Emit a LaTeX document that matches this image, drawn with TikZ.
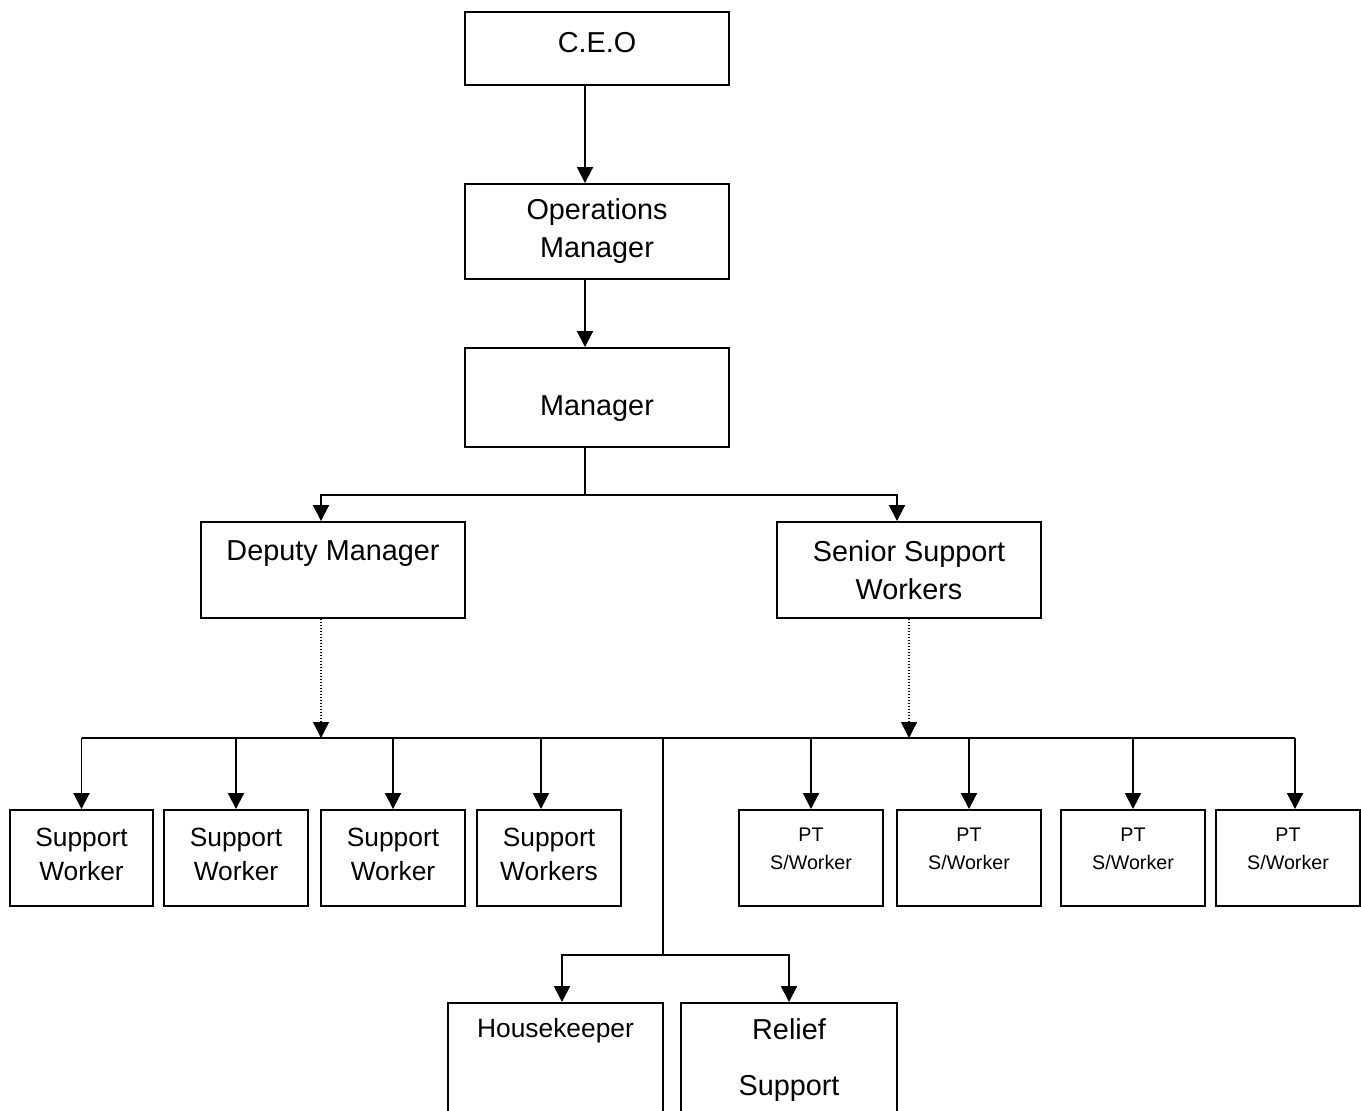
\documentclass[tikz,border=0pt]{standalone}
\usepackage{fontspec}
\setmainfont{Liberation Sans}
\usetikzlibrary{arrows.meta, positioning}

\begin{document}
\begin{tikzpicture}[
    x=0.02cm, y=-0.02cm,
    box/.style={draw, line width=1.1pt, align=center, minimum width=5.28cm, font=\fontsize{16.4}{21.6}\selectfont},
    worker/.style={draw, line width=1.1pt, align=center, minimum width=2.87cm, minimum height=1.92cm, text depth=0.16cm, font=\fontsize{15}{19.3}\selectfont},
    ptworker/.style={worker, text depth=0.38cm, font=\fontsize{11.2}{15.9}\selectfont},
    openbox/.style={draw, line width=1.1pt, align=center, anchor=north, inner ysep=9pt, text depth=4cm},
    link/.style={line width=1.1pt, -{Triangle[width=0.32cm,length=0.32cm]}},
    dotlink/.style={line width=0.7pt, densely dotted, -{Triangle[width=0.32cm,length=0.32cm]}},
    bus/.style={line width=1.1pt},
]
    \path[use as bounding box, clip] (0,0) rectangle (1361,1111);

    % Top levels
    \node[box, minimum height=1.46cm, text depth=0.24cm] (ceo) at (597,48.5) {C.E.O};
    \node[box, minimum height=1.9cm] (ops) at (597,231.5) {Operations\\Manager};
    \node[box, minimum height=1.98cm, text height=0.82cm] (mgr) at (597,397.5) {Manager};

    \node[box, minimum height=1.92cm] (dep) at (333,570) {Deputy Manager\\\mbox{}};
    \node[box, minimum height=1.92cm] (ssw) at (909,570) {Senior Support\\Workers};

    % Support workers
    \node[worker] (sw1) at (81.5,858) {Support\\Worker};
    \node[worker] (sw2) at (236,858) {Support\\Worker};
    \node[worker] (sw3) at (393,858) {Support\\Worker};
    \node[worker] (sw4) at (549,858) {Support\\Workers};

    % Part time workers
    \node[ptworker] (pt1) at (811,858) {PT\\S/Worker};
    \node[ptworker] (pt2) at (969,858) {PT\\S/Worker};
    \node[ptworker] (pt3) at (1133,858) {PT\\S/Worker};
    \node[ptworker] (pt4) at (1288,858) {PT\\S/Worker};

    % Housekeeping and relief
    \node[openbox, minimum width=4.3cm, font=\fontsize{15}{19.3}\selectfont] (hk) at (555.5,1002) {Housekeeper};
    \node[openbox, minimum width=4.32cm, font=\fontsize{16.4}{21.6}\selectfont] (rel) at (789,1002) {Relief\\[10pt]Support};

    % Connectors
    \coordinate (split) at (585,495);
    \coordinate (bus) at (663,738);
    \coordinate (hsplit) at (663,955);
    \coordinate (dtop) at ([xshift=-0.24cm]dep.south);
    \coordinate (t4) at ([xshift=-0.16cm]sw4.north);
    \coordinate (t8) at ([xshift=0.14cm]pt4.north);

    \draw[link] ([xshift=-0.24cm]ceo.south) -- ([xshift=-0.24cm]ops.north);
    \draw[link] ([xshift=-0.24cm]ops.south) -- ([xshift=-0.24cm]mgr.north);
    \draw[bus] ([xshift=-0.24cm]mgr.south) -- (split);
    \draw[link] (split) -| ([xshift=-0.24cm]dep.north);
    \draw[link] (split) -| ([xshift=-0.24cm]ssw.north);

    \draw[dotlink] (dtop) -- (dtop |- bus);
    \draw[dotlink] (ssw.south) -- (ssw.south |- bus);

    \draw[bus] (sw1.north |- bus) -- (t8 |- bus);
    \foreach \n in {sw1,sw2,sw3,pt1,pt2,pt3}
        \draw[link] (\n.north |- bus) -- (\n.north);
    \draw[link] (t4 |- bus) -- (t4);
    \draw[link] (t8 |- bus) -- (t8);

    \draw[bus] (bus) -- (hsplit);
    \draw[link] (hsplit) -| ([xshift=0.13cm]hk.north);
    \draw[link] (hsplit) -| (rel.north);

\end{tikzpicture}
\end{document}
